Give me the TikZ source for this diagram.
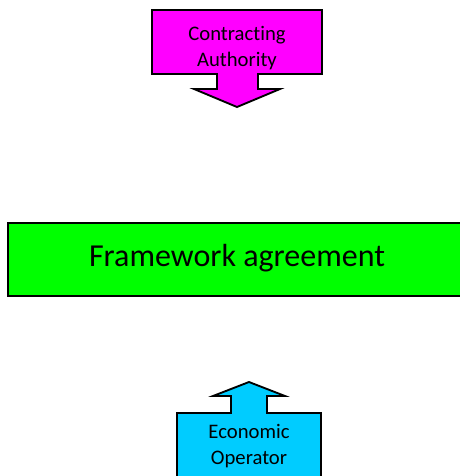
\documentclass[tikz,border=0pt]{standalone}
\usepackage{fontspec}
\setmainfont[RawFeature=-liga]{Carlito}
\usetikzlibrary{positioning, calc}
\definecolor{authority}{RGB}{255,0,255}
\definecolor{framework}{RGB}{0,255,0}
\definecolor{operator}{RGB}{0,204,255}

\begin{document}
\begin{tikzpicture}[x=0.75pt, y=-0.75pt, line width=1.4pt, line join=miter,
  party/.style={align=center, font=\fontsize{15.5}{19.5}\selectfont},
  agreement/.style={font=\fontsize{24}{28}\selectfont}]
  \useasboundingbox (0,0) rectangle (460,476);
  \clip (0,0) rectangle (460,476);

  % contracting authority, pointing down
  \draw[fill=authority] (152,10) -- (322,10) -- (322,74) -- (258,74) -- (258,89)
    -- (280,89) -- (237,107) -- (194,89) -- (217,89) -- (217,74) -- (152,74) -- cycle;
  \node[party] (ca) at (237,48) {Contracting\\Authority};

  % framework agreement
  \draw[fill=framework] (8,223) rectangle (475,296);
  \node[agreement] (fa) at (237,258) {Framework agreement};

  % economic operator, pointing up
  \draw[fill=operator] (177,490) -- (177,413) -- (231,413) -- (231,396) -- (213,396)
    -- (249,382) -- (285,396) -- (267,396) -- (267,413) -- (321,413) -- (321,490);
  \node[party] (eo) at (249,446) {Economic\\Operator};
\end{tikzpicture}
\end{document}
